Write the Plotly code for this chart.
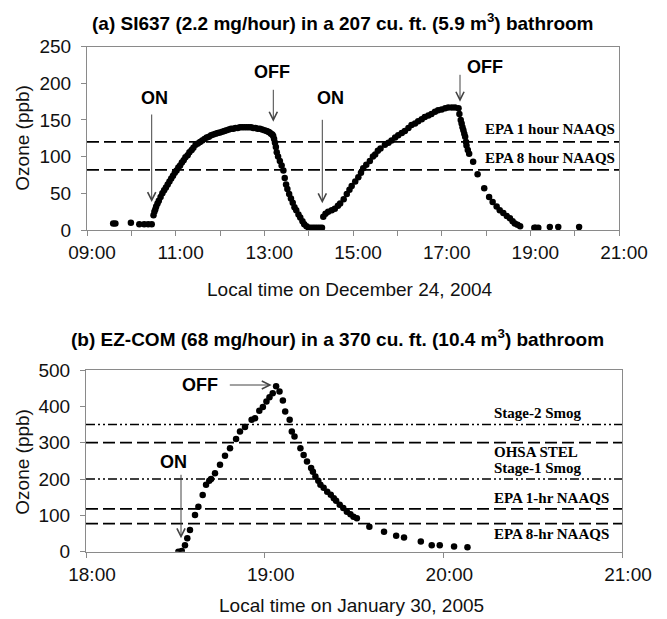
import plotly.graph_objects as go

# ---------------- data ----------------
# (a) SI637, December 24, 2004 (local time in decimal hours, ozone ppb)
a_time = [9.59, 9.64, 9.99, 10.18, 10.29, 10.38, 10.46,
          10.50, 10.52, 10.54, 10.56, 10.59, 10.62, 10.66, 10.70, 10.74, 10.78, 10.82, 10.86,
          10.90, 10.94, 10.98, 11.02, 11.06, 11.10, 11.14, 11.18, 11.22, 11.27, 11.31, 11.36,
          11.40, 11.45, 11.50, 11.55, 11.60, 11.65, 11.70, 11.75, 11.80, 11.85, 11.90, 11.95,
          12.00, 12.05, 12.10, 12.15, 12.20, 12.25, 12.30, 12.35, 12.40, 12.45, 12.50, 12.55,
          12.60, 12.65, 12.70, 12.75, 12.80, 12.85, 12.90, 12.95, 13.00, 13.05, 13.09, 13.12,
          13.15, 13.18, 13.20, 13.22, 13.24, 13.26, 13.28, 13.31, 13.35, 13.39, 13.43, 13.46,
          13.49, 13.52, 13.56, 13.60, 13.64, 13.68, 13.72, 13.77, 13.81, 13.86, 13.90, 13.95,
          14.00, 14.05, 14.10, 14.15, 14.20, 14.25, 14.30,
          14.33, 14.38, 14.44, 14.52, 14.59, 14.66, 14.71, 14.79, 14.86, 14.92, 14.97, 15.05,
          15.12, 15.18, 15.23, 15.30, 15.38, 15.45, 15.50, 15.56, 15.62, 15.72, 15.80, 15.87,
          15.95, 16.02, 16.10, 16.17, 16.25, 16.32, 16.40, 16.47, 16.55, 16.62, 16.70, 16.77,
          16.85, 16.92, 17.00, 17.08, 17.15, 17.23, 17.30, 17.38,
          17.40, 17.43, 17.45, 17.47, 17.49, 17.51, 17.53, 17.55, 17.56, 17.59, 17.62, 17.71,
          17.81, 17.96, 18.07, 18.15, 18.24, 18.31, 18.39, 18.47, 18.54, 18.60, 18.65, 18.71,
          18.77, 19.09, 19.12, 19.18, 19.44, 19.63, 20.10]
a_ozone = [9, 9, 10, 8, 8, 8, 8,
           20, 25, 28, 32, 36, 40, 45, 50, 54, 58, 62, 66,
           70, 74, 78, 81, 85, 88, 92, 95, 99, 102, 106, 109,
           112, 116, 118, 120, 122, 124, 126, 127, 129, 130, 131, 132,
           133, 134, 135, 136, 137, 138, 138, 139, 139, 140, 140, 140,
           140, 140, 140, 139, 139, 138, 138, 137, 136, 135, 134, 133,
           131, 130, 128, 124, 119, 113, 106, 100, 94, 88, 81, 71,
           62, 56, 49, 43, 37, 31, 27, 21, 17, 12, 8, 5,
           3, 3, 3, 3, 3, 3, 3,
           18, 22, 25, 27, 29, 33, 36, 42, 49, 55, 60, 66,
           72, 78, 84, 89, 94, 100, 103, 108, 111, 116, 119, 122,
           126, 129, 132, 135, 139, 143, 145, 148, 151, 154, 156, 158,
           161, 163, 164, 166, 167, 167, 167, 166,
           158, 150, 145, 140, 136, 131, 127, 120, 115, 109, 104, 93,
           76, 57, 45, 38, 32, 27, 23, 19, 16, 12, 9, 7,
           5, 3, 3, 3, 4, 4, 4]

# (b) EZ-COM, January 30, 2005
b_time = [18.517, 18.536, 18.554, 18.567, 18.582, 18.610, 18.629, 18.653, 18.672, 18.690,
          18.700, 18.722, 18.750, 18.778, 18.806, 18.840, 18.862, 18.890, 18.927, 18.946,
          18.970, 18.990, 19.010, 19.027, 19.045, 19.064, 19.083, 19.102, 19.115, 19.140,
          19.152, 19.167, 19.200, 19.218, 19.237, 19.260, 19.270, 19.284, 19.300, 19.312,
          19.330, 19.350, 19.370, 19.387, 19.400, 19.420, 19.440, 19.460, 19.480, 19.497,
          19.516, 19.586, 19.668, 19.736, 19.780, 19.874, 19.935, 19.980, 20.060, 20.135]
b_ozone = [0, 2, 18, 37, 60, 101, 124, 156, 184, 195,
           200, 216, 239, 264, 285, 310, 331, 343, 363, 367,
           388, 398, 413, 425, 436, 455, 441, 416, 386, 363,
           331, 317, 285, 266, 248, 230, 220, 207, 195, 184,
           176, 165, 157, 147, 140, 129, 120, 110, 103, 96,
           92, 69, 55, 44, 39, 28, 18, 18, 14, 12]

# tick labels
a_tickvals = list(range(9, 22))
a_ticktext = ["09:00", "", "11:00", "", "13:00", "", "15:00", "", "17:00", "", "19:00", "", "21:00"]
b_tickvals = [18, 19, 20, 21]
b_ticktext = ["18:00", "19:00", "20:00", "21:00"]

# reference levels (ppb)
a_dash_levels = [120, 82]
a_dash_labels = ["EPA 1 hour NAAQS", "EPA 8 hour NAAQS"]
b_dash_levels = [300, 118, 77]
b_dashdot_levels = [350, 200]
b_level_labels = ["Stage-2 Smog", "OHSA STEL", "Stage-1 Smog", "EPA 1-hr NAAQS", "EPA 8-hr NAAQS"]

# ---------------- layout helpers ----------------
W, H = 667, 619


def px(x):
    return x / W


def py(y):
    return 1 - y / H


SANS = "Liberation Sans, Arial, sans-serif"
SERIF = "Liberation Serif, Times New Roman, serif"
AXIS_GRAY = "#8a8a8a"

fig = go.Figure()
fig.add_trace(go.Scatter(x=a_time, y=a_ozone, mode="markers",
                         marker=dict(color="black", size=6.5), xaxis="x", yaxis="y",
                         showlegend=False, hoverinfo="skip"))
fig.add_trace(go.Scatter(x=b_time, y=b_ozone, mode="markers",
                         marker=dict(color="black", size=6.5), xaxis="x2", yaxis="y2",
                         showlegend=False, hoverinfo="skip"))

axis_common = dict(showline=True, linecolor=AXIS_GRAY, linewidth=1, mirror=True,
                   showgrid=False, zeroline=False, ticks="outside", ticklen=5,
                   tickcolor=AXIS_GRAY, automargin=False,
                   tickfont=dict(family=SANS, size=19, color="#111"))

fig.update_layout(
    width=W, height=H,
    margin=dict(l=0, r=0, t=0, b=0, autoexpand=False),
    paper_bgcolor="white", plot_bgcolor="white",
    xaxis=dict(domain=[px(87), px(619)], range=[9, 21], tickmode="array",
               tickvals=a_tickvals, ticktext=a_ticktext, anchor="y",
               ticklabelshift=5, **axis_common),
    yaxis=dict(domain=[py(230), py(46.5)], range=[0, 250], dtick=50, anchor="x",
               ticklabelstandoff=6, **axis_common),
    xaxis2=dict(domain=[px(86), px(622)], range=[18, 21], tickmode="array",
                tickvals=b_tickvals, ticktext=b_ticktext, anchor="y2",
                ticklabelshift=6, **axis_common),
    yaxis2=dict(domain=[py(551.7), py(370)], range=[0, 500], dtick=100, anchor="x2",
                ticklabelstandoff=6, **axis_common),
)

# reference lines
for lv in a_dash_levels:
    fig.add_shape(type="line", xref="x domain", yref="y", x0=0, x1=1, y0=lv, y1=lv,
                  line=dict(color="black", width=1.8, dash="12px,5px"))
for lv in b_dash_levels:
    fig.add_shape(type="line", xref="x2 domain", yref="y2", x0=0, x1=1, y0=lv, y1=lv,
                  line=dict(color="black", width=1.8, dash="12px,5px"))
for lv in b_dashdot_levels:
    fig.add_shape(type="line", xref="x2 domain", yref="y2", x0=0, x1=1, y0=lv, y1=lv,
                  line=dict(color="black", width=1.5, dash="9px,3px,2px,3px,2px,3px"))

ann = []


def text(x, y, s, size=19, bold=False, family=SANS, xanchor="center", angle=0, color="black"):
    ann.append(dict(xref="paper", yref="paper", x=px(x), y=py(y), text=s, showarrow=False,
                    xanchor=xanchor, yanchor="middle", textangle=angle,
                    font=dict(family=family, size=size, color=color)))


def arrow(hx, hy, tx, ty):
    ann.append(dict(xref="paper", yref="paper", x=px(hx), y=py(hy), text="",
                    showarrow=True, ax=tx - hx, ay=ty - hy, axref="pixel", ayref="pixel",
                    arrowhead=5, arrowsize=1.6, arrowwidth=1, arrowcolor="#444", standoff=0))


# titles
text(90, 21.7, "<b>(a) SI637 (2.2 mg/hour) in a 207 cu. ft. (5.9 m<sup>3</sup>) bathroom</b>",
     size=19, xanchor="left")
text(69.3, 338, "<b>(b) EZ-COM (68 mg/hour) in a 370 cu. ft. (10.4 m<sup>3</sup>) bathroom</b>",
     size=19, xanchor="left")
text(205, 289.5, "Local time on December 24, 2004", size=19, xanchor="left", color="#111")
text(216.7, 605.5, "Local time on January 30, 2005", size=19, xanchor="left", color="#111")
text(21.7, 138, "Ozone (ppb)", size=19, angle=-90, color="#111")
text(21.7, 462, "Ozone (ppb)", size=19, angle=-90, color="#111")

# level labels
text(617, 129.3, "<b>" + a_dash_labels[0] + "</b>", size=15, family=SERIF, xanchor="right")
text(617, 158.3, "<b>" + a_dash_labels[1] + "</b>", size=15, family=SERIF, xanchor="right")
for lab, yy in zip(b_level_labels, [413.3, 451.7, 468.3, 498.3, 534]):
    text(491.7, yy, "<b>" + lab + "</b>", size=15, family=SERIF, xanchor="left")

# ON / OFF markers
text(154.5, 98.3, "<b>ON</b>", size=18)
arrow(151.7, 202, 151.7, 113)
text(272, 71.7, "<b>OFF</b>", size=18)
arrow(273.3, 121.7, 273.3, 88.3)
text(330.8, 98.3, "<b>ON</b>", size=18)
arrow(322.3, 203.3, 322.3, 118.3)
text(485, 66.7, "<b>OFF</b>", size=18)
arrow(460, 101.7, 460, 73.3)
text(200, 385, "<b>OFF</b>", size=18)
arrow(271.7, 385, 228.3, 385)
text(173, 461.7, "<b>ON</b>", size=18)
arrow(181, 538.3, 181, 473.3)

fig.update_layout(annotations=ann)
fig.write_html("out.html")
